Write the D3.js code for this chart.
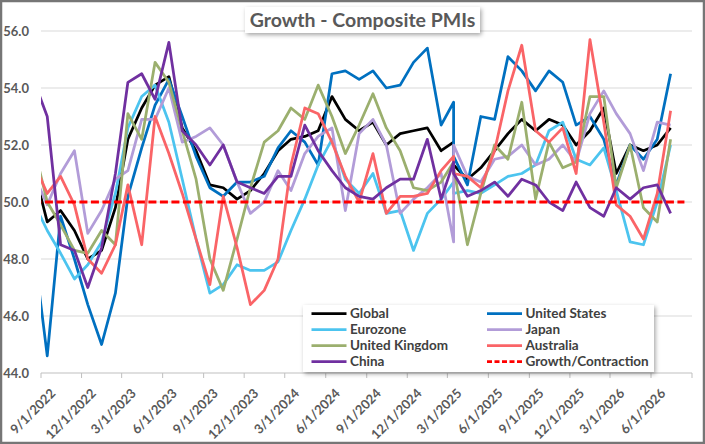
<!DOCTYPE html>
<html>
<head>
<meta charset="utf-8">
<script src="https://cdn.jsdelivr.net/npm/d3@7"></script>
<style>
  body { margin: 0; background: #fff; }
  text { font-family: Lato, "Liberation Sans", sans-serif; font-weight: bold; }
</style>
</head>
<body>
<div id="container"></div>
<script>
const dates = [
  '2022-08-15', '2022-09-15', '2022-10-15', '2022-11-15', '2022-12-15',
  '2023-01-15', '2023-02-15', '2023-03-15', '2023-04-15', '2023-05-15', '2023-06-15',
  '2023-07-15', '2023-08-15', '2023-09-15', '2023-10-15', '2023-11-15', '2023-12-15',
  '2024-01-15', '2024-02-15', '2024-03-15', '2024-04-15', '2024-05-15', '2024-06-15',
  '2024-07-15', '2024-08-15', '2024-09-15', '2024-10-15', '2024-11-15', '2024-12-15',
  '2025-01-15', '2025-02-15', '2025-03-15', '2025-03-15', '2025-04-15', '2025-05-15',
  '2025-06-15', '2025-07-15', '2025-08-15', '2025-09-15', '2025-10-15', '2025-11-15',
  '2025-12-15', '2026-01-15', '2026-02-15', '2026-03-15', '2026-04-15', '2026-05-15',
  '2026-06-15', '2026-07-15'
]

const global = [
  51.2, 49.3, 49.7, 49.0, 48.0, 48.3, 49.8, 52.2, 53.3, 54.1, 54.4,
  52.6, 51.8, 50.6, 50.5, 50.1, 50.4, 51.0, 51.8, 52.2, 52.3,
  52.5, 53.7, 52.9, 52.5, 52.8, 52.0, 52.4, 52.5, 52.6, 51.8,
  52.1, 51.3, 50.8, 51.2, 51.8, 52.4, 52.9, 52.5, 52.9, 52.7,
  52.0, 52.5, 53.3, 51.0, 52.0, 51.8, 52.0, 52.6
]
const unitedStates = [
  48.5, 44.6, 49.5, 48.0, 46.4, 45.0, 46.8, 50.2, 51.9, 53.4, 54.3,
  53.0, 51.6, 50.5, 50.2, 50.7, 50.7, 50.9, 51.9, 52.5, 52.1,
  51.3, 54.5, 54.6, 54.3, 54.6, 54.0, 54.1, 54.9, 55.4, 52.7,
  53.5, 51.6, 50.6, 53.0, 52.9, 55.1, 54.6, 53.9, 54.6, 54.2,
  52.7, 53.0, 52.2, 50.6, 52.0, 51.5, 52.2, 54.5
]
const eurozone = [
  50.0, 49.0, 48.2, 47.3, 47.8, 48.6, 50.3, 52.6, 53.7, 54.1, 52.8,
  50.8, 48.7, 46.8, 47.1, 47.8, 47.6, 47.6, 47.9, 49.0, 50.1,
  51.3, 52.2, 50.8, 50.3, 51.0, 49.6, 49.7, 48.3, 49.6, 50.1,
  50.7, 50.3, 50.4, 50.3, 50.6, 50.9, 51.0, 51.3, 52.5, 52.8,
  51.5, 51.3, 51.9, 50.4, 48.6, 48.5, 50.0, 52.0
]
const japan = [
  51.0, 49.9, 51.0, 51.8, 48.9, 49.7, 50.8, 51.1, 52.9, 52.9, 54.0,
  52.1, 52.3, 52.6, 52.0, 50.7, 49.6, 50.0, 51.1, 50.4, 51.7,
  52.3, 52.6, 49.7, 52.4, 52.9, 52.0, 49.6, 50.1, 50.5, 51.0,
  48.6, 52.0, 50.9, 50.7, 51.5, 51.6, 52.0, 51.3, 51.5, 52.0,
  51.4, 53.1, 53.9, 53.1, 52.4, 51.1, 52.8, 52.7
]
const unitedKingdom = [
  52.0, 50.0, 49.2, 48.3, 48.2, 49.0, 48.5, 53.1, 52.2, 54.9, 54.2,
  52.5, 50.8, 48.0, 46.9, 48.7, 50.5, 52.1, 52.5, 53.3, 52.9,
  54.1, 53.0, 51.7, 52.7, 53.8, 52.6, 51.8, 50.5, 50.4, 50.7,
  51.4, 51.2, 48.5, 50.3, 52.0, 51.5, 53.5, 50.1, 52.1, 51.2,
  51.4, 53.7, 53.7, 50.5, 52.0, 49.8, 49.3, 52.2
]
const australia = [
  51.4, 50.3, 50.9, 49.9, 48.0, 47.5, 48.5, 50.6, 48.5, 53.0, 51.7,
  50.3, 48.7, 47.1, 50.2, 48.4, 46.4, 46.9, 48.0, 51.3, 53.3,
  53.1, 52.1, 50.9, 50.0, 51.7, 49.6, 50.2, 50.2, 50.3, 51.1,
  51.6, 51.0, 50.9, 50.5, 51.8, 53.9, 55.5, 52.5, 52.1, 52.6,
  51.0, 55.7, 52.8, 49.9, 49.5, 48.7, 50.3, 53.2
]
const china = [
  54.3, 53.0, 48.5, 48.3, 47.0, 48.4, 51.0, 54.2, 54.5, 53.6, 55.6,
  52.5, 52.0, 51.3, 52.0, 50.7, 50.5, 50.3, 50.9, 50.9, 52.7,
  51.8, 51.1, 50.5, 50.2, 50.1, 50.5, 50.8, 50.8, 52.2, 50.1,
  51.4, 51.0, 50.2, 50.4, 50.7, 50.2, 50.8, 50.6, 50.0, 49.7,
  50.7, 49.8, 49.5, 50.5, 50.1, 50.5, 50.6, 49.6
]

const thresholdDates = ['2022-08-15', '2026-08-15']
const thresholdValues = [50, 50]

const seriesNames = ['Global', 'United States', 'Eurozone', 'Japan', 'United Kingdom', 'Australia', 'China']
const seriesValues = [global, unitedStates, eurozone, japan, unitedKingdom, australia, china]
const seriesColors = ['#000000', '#0070C0', '#4CC4EF', '#B29CD8', '#9BAF6E', '#FA6467', '#7030A0']

const yTicks = [44, 46, 48, 50, 52, 54, 56]

const width = 705
const height = 444

const margins = {
  top: 31,
  bottom: 71,
  left: 41,
  right: 13
}

const parseDate = d3.timeParse('%Y-%m-%d')
const formatDate = d3.timeFormat('%-m/%-d/%Y')

const x = d3.scaleTime()
  .domain([new Date(2022, 8, 1), new Date(2026, 8, 1)])
  .range([margins.left, width - margins.right])

const y = d3.scaleLinear()
  .domain([44, 56])
  .range([height - margins.bottom, margins.top])

const svg = d3.select('#container')
  .append('svg')
  .attr('width', width)
  .attr('height', height)
  .attr('viewBox', [0, 0, width, height])

const defs = svg.append('defs')

const shadow = defs.append('filter')
  .attr('id', 'shadow')
  .attr('x', '-10%').attr('y', '-30%')
  .attr('width', '130%').attr('height', '180%')
shadow.append('feDropShadow')
  .attr('dx', 1.5).attr('dy', 2)
  .attr('stdDeviation', 2)
  .attr('flood-color', '#000')
  .attr('flood-opacity', 0.35)

defs.append('clipPath')
  .attr('id', 'plot')
  .append('rect')
  .attr('x', margins.left)
  .attr('y', 0)
  .attr('width', width - margins.right - margins.left)
  .attr('height', height - margins.bottom)

// background + frame
svg.append('rect')
  .attr('x', 1).attr('y', 1)
  .attr('width', width - 2).attr('height', height - 2)
  .style('fill', 'white')
  .style('stroke', '#767676')
  .style('stroke-width', 2.5)

// gridlines
svg.append('g')
  .selectAll('line')
  .data(yTicks.slice(1))
  .join('line')
  .attr('x1', margins.left)
  .attr('x2', width - margins.right)
  .attr('y1', d => y(d))
  .attr('y2', d => y(d))
  .style('stroke', '#D9D9D9')
  .style('stroke-width', 1)

// y labels
svg.append('g')
  .selectAll('text')
  .data(yTicks)
  .join('text')
  .attr('x', 29)
  .attr('y', d => y(d))
  .attr('dy', '0.35em')
  .attr('text-anchor', 'end')
  .style('font-size', 13)
  .style('fill', '#595959')
  .text(d => d.toFixed(1))

// x axis: a tick every 3 months from the axis start
const [xStart, xEnd] = x.domain()
const xTicks = d3.timeMonths(xStart, d3.timeDay.offset(xEnd, 1))
  .filter((d, i) => i % 3 === 0)

svg.append('line')
  .attr('x1', margins.left)
  .attr('x2', width - margins.right)
  .attr('y1', y(44))
  .attr('y2', y(44))
  .style('stroke', '#BFBFBF')
  .style('stroke-width', 1)

svg.append('g')
  .selectAll('line')
  .data(xTicks)
  .join('line')
  .attr('x1', d => x(d))
  .attr('x2', d => x(d))
  .attr('y1', y(44))
  .attr('y2', y(44) + 5)
  .style('stroke', '#BFBFBF')

svg.append('g')
  .selectAll('text')
  .data(xTicks.slice(0, -1))
  .join('text')
  .attr('transform', d => `translate(${ x(d) + 12 },${ y(44) + 18 }) rotate(-45)`)
  .attr('dy', '0.35em')
  .attr('text-anchor', 'end')
  .style('font-size', 13)
  .style('fill', '#595959')
  .text(d => formatDate(d))

// series
const line = d3.line()
  .x(d => x(d.date))
  .y(d => y(d.value))

const series = seriesNames.map((name, i) => ({
  name,
  color: seriesColors[i],
  points: dates.map((d, j) => ({ date: parseDate(d), value: seriesValues[i][j] }))
}))

const threshold = thresholdDates.map((d, j) => ({ date: parseDate(d), value: thresholdValues[j] }))

const plot = svg.append('g')
  .attr('clip-path', 'url(#plot)')

plot.selectAll('path.series')
  .data(series)
  .join('path')
  .attr('class', 'series')
  .attr('d', d => line(d.points))
  .style('fill', 'none')
  .style('stroke', d => d.color)
  .style('stroke-width', 2.75)
  .style('stroke-linejoin', 'round')

plot.append('path')
  .attr('d', line(threshold))
  .style('fill', 'none')
  .style('stroke', '#FF0000')
  .style('stroke-width', 3)
  .style('stroke-dasharray', '8,3.5')

// title
svg.append('rect')
  .attr('x', 245).attr('y', 7)
  .attr('width', 235).attr('height', 26)
  .style('fill', 'white')
  .attr('filter', 'url(#shadow)')

svg.append('text')
  .attr('x', 362.5)
  .attr('y', 26.5)
  .attr('text-anchor', 'middle')
  .style('font-size', 19.5)
  .style('fill', '#595959')
  .text('Growth - Composite PMIs')

// legend
const legendItems = series.map(d => ({ name: d.name, color: d.color, dash: null }))
  .concat([{ name: 'Growth/Contraction', color: '#FF0000', dash: '5,2.5' }])

svg.append('rect')
  .attr('x', 303).attr('y', 305)
  .attr('width', 351).attr('height', 67)
  .style('fill', 'white')
  .attr('filter', 'url(#shadow)')

const legend = svg.append('g')
  .selectAll('g')
  .data(legendItems)
  .join('g')
  .attr('transform', (d, i) => `translate(${ i % 2 ? 487 : 311.5 },${ 313.5 + Math.floor(i / 2) * 16 })`)

legend.append('line')
  .attr('x1', 0).attr('x2', 35)
  .style('stroke', d => d.color)
  .style('stroke-width', 2.75)
  .style('stroke-dasharray', d => d.dash)

legend.append('text')
  .attr('x', 38.5)
  .attr('dy', '0.35em')
  .style('font-size', 13.5)
  .style('fill', '#404040')
  .text(d => d.name)
</script>
</body>
</html>
